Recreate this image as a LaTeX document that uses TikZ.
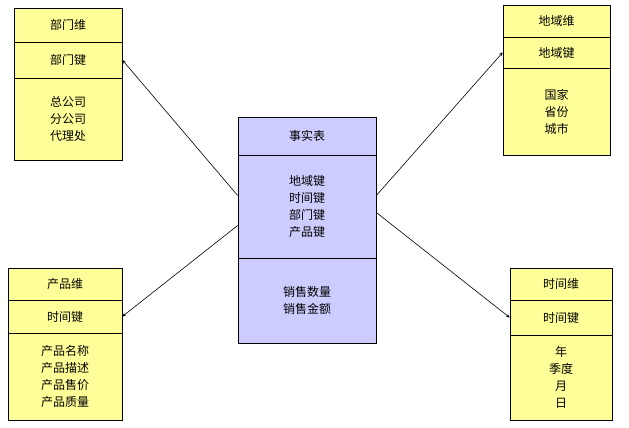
\documentclass[tikz,border=0pt]{standalone}
\usepackage{fontspec}
\setmainfont{Noto Sans CJK SC}
\usetikzlibrary{calc}
\definecolor{yel}{HTML}{FFFF99}
\definecolor{lav}{HTML}{CCCCFF}
\tikzset{
  sec/.style={draw=black, line width=0.7pt, inner sep=0pt, align=center, font=\fontsize{12}{17}\selectfont},
  ysec/.style={sec, fill=yel},
  lsec/.style={sec, fill=lav},
  arr/.style={-stealth, line width=0.6pt}
}
\begin{document}
\begin{tikzpicture}[x=1pt,y=-1pt]
\useasboundingbox (0,0) rectangle (629,428);
% top-left
\node[ysec, minimum width=108pt, minimum height=34pt] (tlh) at (68,25) {部门维};
\node[ysec, minimum width=108pt, minimum height=36pt] (tlk) at (68,60) {部门键};
\node[ysec, minimum width=108pt, minimum height=82pt] (tlb) at (68,119) {总公司\\分公司\\代理处};
% top-right
\node[ysec, minimum width=107pt, minimum height=32pt] (trh) at (556.5,21) {地域维};
\node[ysec, minimum width=107pt, minimum height=31pt] (trk) at (556.5,52.5) {地域键};
\node[ysec, minimum width=107pt, minimum height=87pt] (trb) at (556.5,111.5) {国家\\省份\\城市};
% center
\node[lsec, minimum width=138pt, minimum height=38pt] (fh) at (307,136) {事实表};
\node[lsec, minimum width=138pt, minimum height=103pt] (fk) at (307,206.5) {地域键\\时间键\\部门键\\产品键};
\node[lsec, minimum width=138pt, minimum height=85pt] (fm) at (307,300.5) {销售数量\\销售金额};
% bottom-left
\node[ysec, minimum width=114pt, minimum height=32pt] (blh) at (65,284) {产品维};
\node[ysec, minimum width=114pt, minimum height=33pt] (blk) at (65,316.5) {时间键};
\node[ysec, minimum width=114pt, minimum height=87pt] (blb) at (65,376.5) {产品名称\\产品描述\\产品售价\\产品质量};
% bottom-right
\node[ysec, minimum width=102pt, minimum height=32pt] (brh) at (561,284) {时间维};
\node[ysec, minimum width=102pt, minimum height=35pt] (brk) at (561,317.5) {时间键};
\node[ysec, minimum width=102pt, minimum height=85pt] (brb) at (561,377.5) {年\\季度\\月\\日};
% arrows
\draw[arr] ($(fk.west)+(0,-11)$) -- (tlk.east);
\draw[arr] ($(fk.east)+(0,-11)$) -- (trk.west);
\draw[arr] ($(fk.west)+(0,19)$) -- (blk.east);
\draw[arr] ($(fk.east)+(0,6)$) -- (brk.west);
\end{tikzpicture}
\end{document}
